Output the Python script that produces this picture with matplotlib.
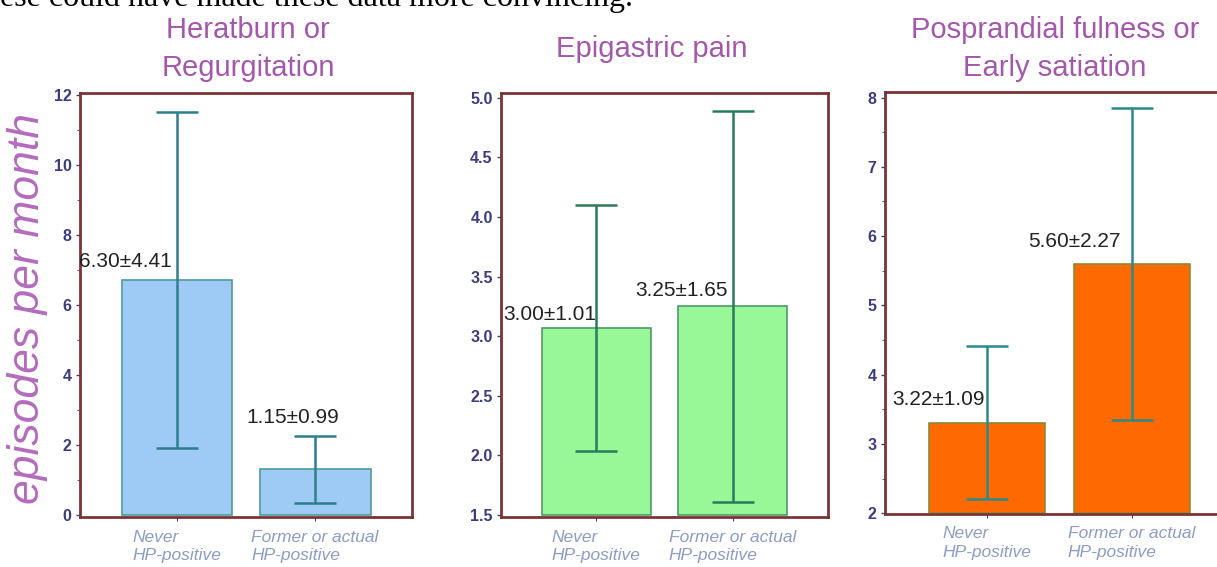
import numpy as np
import matplotlib.pyplot as plt
from matplotlib.ticker import MultipleLocator

# data
groups = ["Never\nHP-positive", "Former or actual\nHP-positive"]
titles = ["Heratburn or\nRegurgitation", "Epigastric pain", "Posprandial fulness or\nEarly satiation"]

heartburn_mean = [6.72, 1.30]
heartburn_err = [4.80, 0.96]
heartburn_labels = ["6.30±4.41", "1.15±0.99"]

epigastric_mean = [3.07, 3.25]
epigastric_err = [1.03, 1.64]
epigastric_labels = ["3.00±1.01", "3.25±1.65"]

fulness_mean = [3.31, 5.60]
fulness_err = [1.11, 2.25]
fulness_labels = ["3.22±1.09", "5.60±2.27"]

W, H = 1217, 567
fig = plt.figure(figsize=(W / 100, H / 100), dpi=100)
plt.rcParams['font.family'] = ['Liberation Sans', 'DejaVu Sans']

title_col = '#a458ac'
spine_col = '#7a3434'
tick_col = '#3c3c80'
xlab_col = '#8c9cc4'

# cut-off line of the surrounding document text
fig.text(0.0, 1 - 6 / H, "ese could have made these data more convincing.",
         family='Liberation Serif', fontsize=23, va='baseline', ha='left', color='black')


def px_axes(left, top, right, bottom):
    return fig.add_axes([left / W, 1 - bottom / H, (right - left) / W, (bottom - top) / H])


panels = [
    # means, errs, labels, base, ylim, major, minor, fill, edge, errcolor, label offsets, axes box, title x
    (heartburn_mean, heartburn_err, heartburn_labels, 0, (-0.06, 12.06), 2, 1,
     '#9dcbf6', '#4f9a98', '#2f7f8c', [(-51, 18), (-22, 52)], (80, 93, 412, 517), 248),
    (epigastric_mean, epigastric_err, epigastric_labels, 1.5, (1.483, 5.04), 0.5, None,
     '#98f898', '#4f9a6a', '#2c7a5c', [(-47, 13), (-51, 16)], (501, 93, 828, 517), 652),
    (fulness_mean, fulness_err, fulness_labels, 2, (1.99, 8.08), 1, 0.5,
     '#ff6a00', '#8a8a3a', '#2a8a8a', [(-48, 23), (-57, 22)], (885, 92, 1233, 514), 1055),
]

x = np.arange(len(groups))
for i, (mean, err, labs, base, ylim, major, minor, fc, ec, errc, offs, box, tx) in enumerate(panels):
    ax = px_axes(*box)
    heights = [m - base for m in mean]
    ax.bar(x, heights, width=0.8, bottom=base, color=fc, edgecolor=ec, linewidth=1.2, zorder=2)
    ax.errorbar(x, mean, yerr=err, fmt='none', ecolor=errc, elinewidth=1.8,
                capsize=15, capthick=1.8, zorder=3)
    for j in range(len(x)):
        ax.annotate(labs[j], (x[j], mean[j]), xytext=offs[j], textcoords='offset pixels',
                    ha='center', va='center', fontsize=15, color='#222222', zorder=4)
    ax.set_xlim(-0.7, 1.7)
    ax.set_ylim(*ylim)
    ax.yaxis.set_major_locator(MultipleLocator(major))
    if minor:
        ax.yaxis.set_minor_locator(MultipleLocator(minor))
    if base == 1.5:
        ax.yaxis.set_major_formatter(plt.FormatStrFormatter('%.1f'))
    ax.set_xticks(x)
    ax.set_xticklabels(groups, fontsize=12.5, style='italic', color=xlab_col,
                       multialignment='left', linespacing=1.3)
    for lab in ax.get_yticklabels():
        lab.set_fontweight('bold')
    ax.tick_params(axis='y', labelsize=11.5, labelcolor=tick_col, color=tick_col,
                   length=3, width=1, pad=3)
    ax.tick_params(axis='y', which='minor', length=2, color=tick_col)
    ax.tick_params(axis='x', length=3, color=tick_col, pad=6)
    for s in ax.spines.values():
        s.set_color(spine_col)
        s.set_linewidth(2)
    fig.text(tx / W, 1 - 49 / H, titles[i], ha='center', va='center', fontsize=21,
             color=title_col, linespacing=1.45)
    if i == 0:
        fig.text(28 / W, 1 - 308 / H, "episodes per month", rotation=90, ha='center',
                 va='center', fontsize=32, style='italic', color='#b46cbc')

fig.savefig('out.png', dpi=100)
